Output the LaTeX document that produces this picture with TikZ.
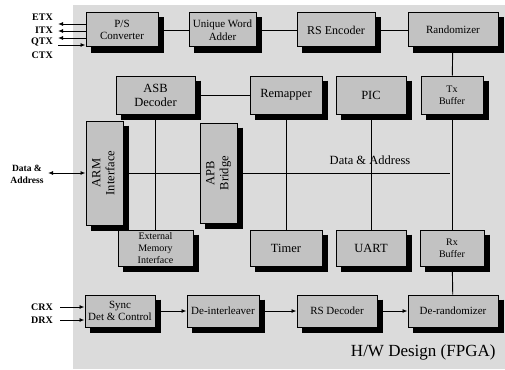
\documentclass[tikz,border=0pt]{standalone}
\usepackage{fontspec}
\setmainfont{Liberation Serif}
\usepackage{graphicx}
\usetikzlibrary{arrows.meta,positioning,calc}
\definecolor{PanelGray}{gray}{0.86}
\definecolor{BoxGray}{gray}{0.76}
\newcommand{\boxshadow}[1]{%
  \draw[draw=black,line width=5pt,line cap=butt,line join=miter]
    ($(#1.north east)+(2.5,5)$) -- ($(#1.south east)+(2.5,2.5)$) -- ($(#1.south west)+(5,2.5)$);}

\begin{document}
\begin{tikzpicture}[x=1pt,y=-1pt,
  node distance=13pt and 13pt,
  blk/.style={draw=black,line width=1pt,fill=BoxGray,align=center,inner sep=1pt,
    font=\fontsize{12.5}{14}\selectfont},
  sblk/.style={blk,font=\fontsize{11}{12.5}\selectfont},
  tblk/.style={blk,font=\fontsize{10}{12}\selectfont},
  lnk/.style={line width=0.9pt,draw=black},
  arr/.style={lnk,-{Latex[length=5pt,width=4pt]}},
  sig/.style={font=\fontsize{10}{12}\selectfont\bfseries,anchor=east,inner sep=0pt}
]
\useasboundingbox (0,0) rectangle (505,369);
\fill[PanelGray] (73,5) rectangle (505,369);

% transmit path
\node[sblk,minimum width=72pt,minimum height=34pt] (ps) at (122,30) {P/S\\Converter};
\node[sblk,minimum width=67pt,minimum height=34pt,right=30pt of ps] (uwa) {Unique Word\\Adder};
\node[sblk,minimum width=78pt,minimum height=34pt,right=40pt of uwa,font=\fontsize{12}{14}\selectfont] (rsenc) {RS Encoder};
\node[sblk,minimum width=90pt,minimum height=34pt,right=32pt of rsenc] (rand) {Randomizer};

% processor side
\node[blk,minimum width=79pt,minimum height=38pt] (asb) at (155.5,95) {ASB\\Decoder};
\node[blk,minimum width=72pt,minimum height=38pt] (remap) at (286,95) {Remapper};
\node[blk,minimum width=70pt,minimum height=38pt,right=of remap] (pic) {PIC};
\node[tblk,minimum width=62pt,minimum height=38pt,right=14pt of pic] (txbuf) {Tx\\Buffer};
\node[blk,minimum width=37pt,minimum height=104pt] (arm) at (104.5,173)
  {\rotatebox{90}{\begin{tabular}{@{}c@{}}ARM\\Interface\end{tabular}}};
\node[blk,minimum width=37pt,minimum height=100pt] (apb) at (218.5,173)
  {\rotatebox{90}{\begin{tabular}{@{}c@{}}APB\\Bridge\end{tabular}}};
\node[tblk,minimum width=75pt,minimum height=36pt] (extmem) at (155.5,248) {External\\Memory\\Interface};
\node[blk,minimum width=72pt,minimum height=36pt] (timer) at (286,248) {Timer};
\node[blk,minimum width=70pt,minimum height=36pt,right=of timer] (uart) {UART};
\node[tblk,minimum width=64pt,minimum height=36pt,right=of uart] (rxbuf) {Rx\\Buffer};

% receive path
\node[sblk,minimum width=70pt,minimum height=32pt] (sync) at (120,311) {Sync\\Det \& Control};
\node[sblk,minimum width=72pt,minimum height=32pt,right=31pt of sync] (deint) {De-interleaver};
\node[sblk,minimum width=80pt,minimum height=32pt,right=37pt of deint] (rsdec) {RS Decoder};
\node[sblk,minimum width=90pt,minimum height=32pt,right=30pt of rsdec] (derand) {De-randomizer};

% shadows
\boxshadow{ps} \boxshadow{uwa} \boxshadow{rsenc} \boxshadow{rand}
\boxshadow{asb} \boxshadow{remap} \boxshadow{pic} \boxshadow{txbuf}
\boxshadow{arm} \boxshadow{apb}
\boxshadow{extmem} \boxshadow{timer} \boxshadow{uart} \boxshadow{rxbuf}
\boxshadow{sync} \boxshadow{deint} \boxshadow{rsdec} \boxshadow{derand}

\draw[lnk] (ps)--(uwa);
\draw[lnk] (uwa)--(rsenc);
\draw[lnk] (rsenc)--(rand);
\draw[lnk] (rand)--(txbuf);
\draw[lnk] (asb)--(remap);
\draw[lnk] (asb)--(extmem);
\draw[lnk] (remap)--(timer);
\draw[lnk] (pic)--(uart);
\draw[lnk] (txbuf)--(rxbuf);
\draw[lnk] (rxbuf)--(derand);
\coordinate (busend) at (450,173);
\draw[lnk] (arm)--(apb);
\draw[lnk] (apb.east)--(busend);
\node[font=\fontsize{12.5}{14}\selectfont] (buslbl) at (370,160) {Data \& Address};
\draw[arr] (sync)--(deint);
\draw[arr] (deint)--(rsdec);
\draw[arr] (rsdec)--(derand);

% external signals
\node[sig] (etx) at (53,17) {ETX};
\node[sig] (itx) at (53,30) {ITX};
\node[sig] (qtx) at (53,42) {QTX};
\node[sig] (ctx) at (53,55) {CTX};
\coordinate (etxend) at (58,24);
\coordinate (itxend) at (58,31);
\coordinate (qtxend) at (58,38);
\coordinate (ctxend) at (58,45);
\draw[arr] (ps.west |- etxend)--(etxend);
\draw[arr] (ps.west |- itxend)--(itxend);
\draw[arr] (ps.west |- qtxend)--(qtxend);
\draw[arr] (ctxend)--(ps.west |- ctxend);

\node[sig] (crx) at (53,307) {CRX};
\node[sig] (drx) at (53,320) {DRX};
\coordinate (crxend) at (60,307);
\coordinate (drxend) at (60,320);
\draw[arr] (crxend)--(sync.west |- crxend);
\draw[arr] (drxend)--(sync.west |- drxend);

\node[font=\fontsize{9.5}{12}\selectfont\bfseries,align=center] (datalbl) at (27,174) {Data \&\\Address};
\coordinate (dataend) at (48,173);
\draw[lnk,{Latex[length=5pt,width=4pt]}-{Latex[length=5pt,width=4pt]}] (dataend)--(arm.west);

\node[font=\fontsize{17}{20}\selectfont,anchor=east] (hwlbl) at (499,352) {H/W Design (FPGA)};
\end{tikzpicture}
\end{document}
